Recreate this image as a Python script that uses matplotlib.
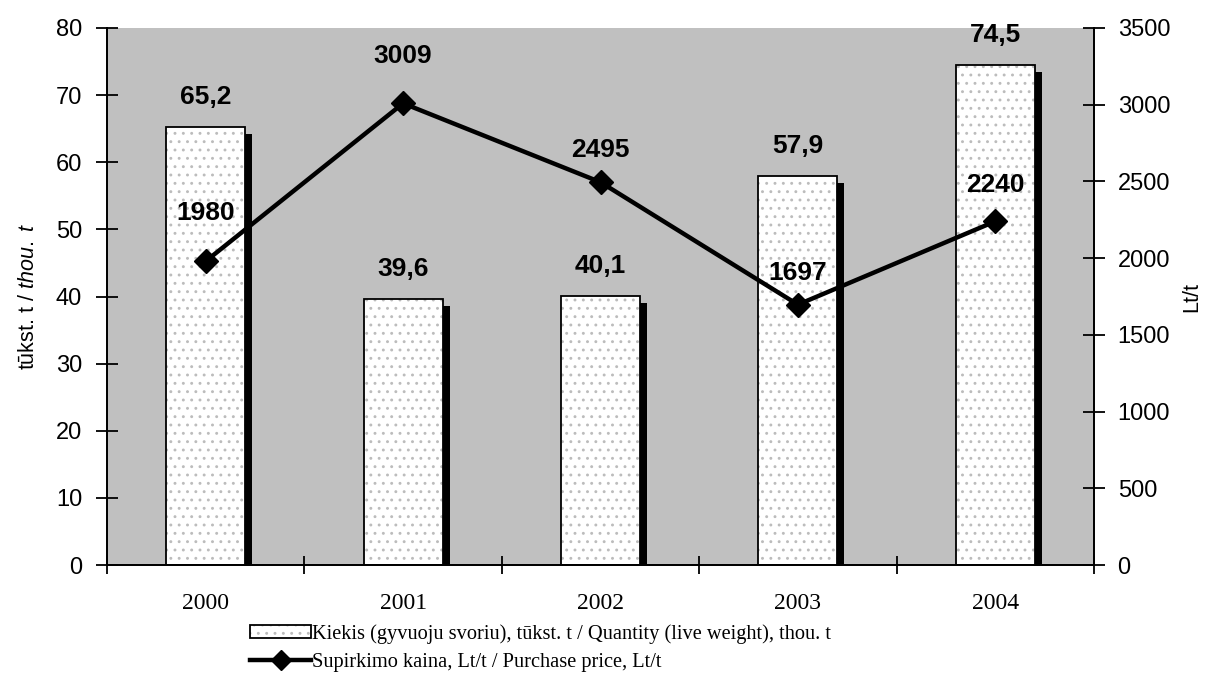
import numpy as np
import matplotlib.pyplot as plt
from matplotlib.patches import Patch
from matplotlib.lines import Line2D
from matplotlib.legend_handler import HandlerTuple
from matplotlib.transforms import ScaledTranslation

# data
years = ["2000", "2001", "2002", "2003", "2004"]
quantity = [65.2, 39.6, 40.1, 57.9, 74.5]
price = [1980, 3009, 2495, 1697, 2240]
price_label_offsets = [48, 47, 32, 32, 36]  # px above marker

sans = "Liberation Sans"
serif = "Liberation Serif"
plt.rcParams["mathtext.fontset"] = "custom"
plt.rcParams["mathtext.rm"] = sans
plt.rcParams["mathtext.it"] = sans + ":italic"
plt.rcParams["hatch.linewidth"] = 0.9

fig = plt.figure(figsize=(12.08, 6.81), dpi=100)
ax = fig.add_axes([107 / 1208, 1 - 565 / 681, (1094 - 107) / 1208, (565 - 28) / 681])
ax2 = ax.twinx()

x = np.arange(len(years))
bw = 0.40
dots = "#bcbcbc"

# shadow bars, shifted right/down a few px
shadow = ScaledTranslation(0.07, -0.07, fig.dpi_scale_trans)
ax.bar(x, quantity, width=bw, color="black", linewidth=0,
       transform=ax.transData + shadow, zorder=1)
ax.bar(x, quantity, width=bw, facecolor="white", edgecolor=dots,
       hatch="..", linewidth=0, zorder=2)
ax.bar(x, quantity, width=bw, fill=False, edgecolor="black", linewidth=1.3, zorder=3)

for xi, v in zip(x, quantity):
    ax.annotate(f"{v:.1f}".replace(".", ","), (xi, v), xytext=(0, 18),
                textcoords="offset pixels", ha="center", va="bottom",
                fontsize=19, fontweight="bold", family=sans)

ax.set_facecolor("#c0c0c0")
ax.set_xlim(-0.5, len(years) - 0.5)
ax.set_ylim(0, 80)
ax.set_yticks(np.arange(0, 81, 10))
ax.set_xticks(x)
ax.set_xticklabels(years, family=serif, fontsize=17)
ax.set_xticks(np.arange(-0.5, len(years), 1), minor=True)
ax.tick_params(axis="x", which="major", length=0, pad=20)
ax.tick_params(axis="x", which="minor", length=13, width=1.3, direction="inout")
ax.tick_params(axis="y", length=16, width=1.3, direction="inout", labelsize=17, pad=10)
for lab in ax.get_yticklabels():
    lab.set_family(sans)
ax.set_ylabel("tūkst. t / $\\it{thou.\\ t}$", family=sans, fontsize=15.5, labelpad=12)

# price line
ax2.plot(x, price, color="black", linewidth=3.2, marker="D", markersize=12, zorder=5)
for xi, v, off in zip(x, price, price_label_offsets):
    ax2.annotate(str(v), (xi, v), xytext=(0, off), textcoords="offset pixels",
                 ha="center", va="center", fontsize=19, fontweight="bold", family=sans)
ax2.set_ylim(0, 3500)
ax2.set_yticks(np.arange(0, 3501, 500))
ax2.tick_params(axis="y", length=16, width=1.3, direction="inout", labelsize=17, pad=9)
for lab in ax2.get_yticklabels():
    lab.set_family(sans)
ax2.set_ylabel("Lt/t", family=sans, fontsize=15.5, labelpad=8)

for a in (ax, ax2):
    a.spines["top"].set_visible(False)
    for s in ("left", "right", "bottom"):
        a.spines[s].set_linewidth(1.3)

# legend
h_bar = (Patch(facecolor="white", edgecolor=dots, hatch="..", linewidth=0),
         Patch(fill=False, edgecolor="black", linewidth=1.3))
h_line = Line2D([], [], color="black", linewidth=3.2, marker="D", markersize=10)
fig.legend([h_bar, h_line],
           ["Kiekis (gyvuoju svoriu), tūkst. t / Quantity (live weight), thou. t",
            "Supirkimo kaina, Lt/t / Purchase price, Lt/t"],
           handler_map={tuple: HandlerTuple(ndivide=1, pad=0)},
           loc="upper left", bbox_to_anchor=(240 / 1208, 1 - 614 / 681),
           frameon=False, borderpad=0, handlelength=3.0, handleheight=0.6,
           handletextpad=0.05, labelspacing=0.45, prop={"family": serif, "size": 14.7})

fig.savefig("out.png", dpi=100)
